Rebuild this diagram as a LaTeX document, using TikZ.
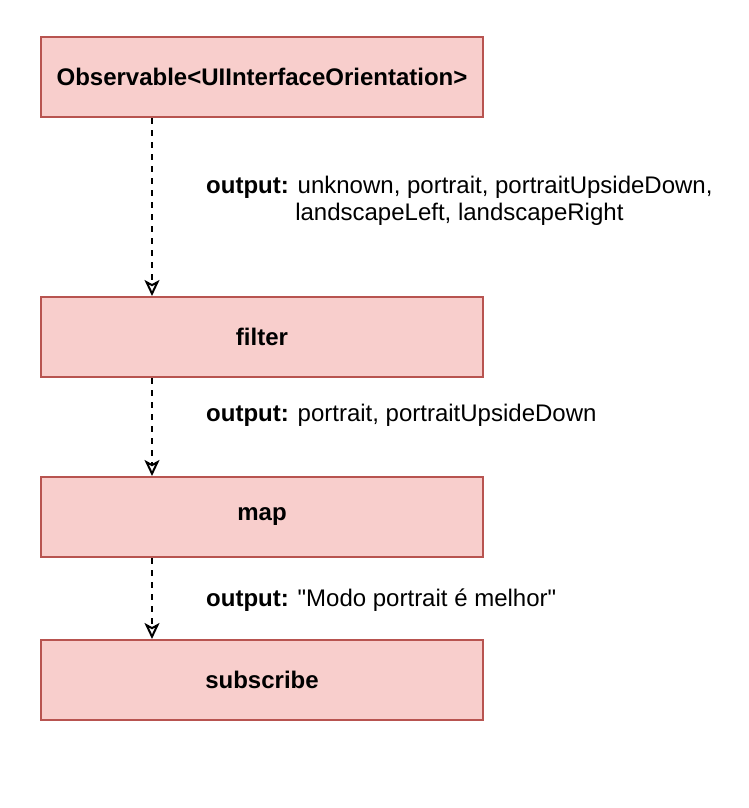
\documentclass[tikz,border=0pt]{standalone}
\usepackage{fontspec}
\setmainfont{Liberation Sans}
\newfontfamily\plainsans{Liberation Sans}
\usetikzlibrary{arrows.meta}
\definecolor{boxfill}{HTML}{F8CECC}
\definecolor{boxline}{HTML}{B85450}
\tikzset{
  stagebox/.style={draw=boxline, fill=boxfill, line width=2pt, minimum width=442pt, minimum height=80pt, inner sep=0pt, font=\plainsans\fontsize{24}{28}\selectfont\bfseries},
  flow/.style={draw=black, line width=2pt, dash pattern=on 6pt off 6pt, -{Stealth[open, length=16pt, width=15pt, inset=4pt, line width=2pt]}},
  outlabel/.style={inner sep=0pt, anchor=west, align=center, font=\plainsans\fontsize{24}{27}\selectfont}
}
\begin{document}
\begin{tikzpicture}[x=1pt, y=-1pt]
\useasboundingbox (0,0) rectangle (748,808);
\node[stagebox] (obs) at (262,77) {Observable<UIInterfaceOrientation>};
\node[stagebox] (filter) at (262,337) {filter};
\node[stagebox] (map) at (262,517) {map};
\node[stagebox] (sub) at (262,680) {subscribe};
\draw[flow] (obs.south -| 152,0) -- (filter.north -| 152,0);
\draw[flow] (filter.south -| 152,0) -- (map.north -| 152,0);
\draw[flow] (map.south -| 152,0) -- (sub.north -| 152,0);
\node[outlabel] (l1) at (206,201) {\textbf{output:} unknown, portrait, portraitUpsideDown,\\landscapeLeft, landscapeRight};
\node[outlabel] (l2) at (206,415) {\textbf{output:} portrait, portraitUpsideDown};
\node[outlabel] (l3) at (206,600) {\textbf{output:} "Modo portrait é melhor"};
\end{tikzpicture}
\end{document}
